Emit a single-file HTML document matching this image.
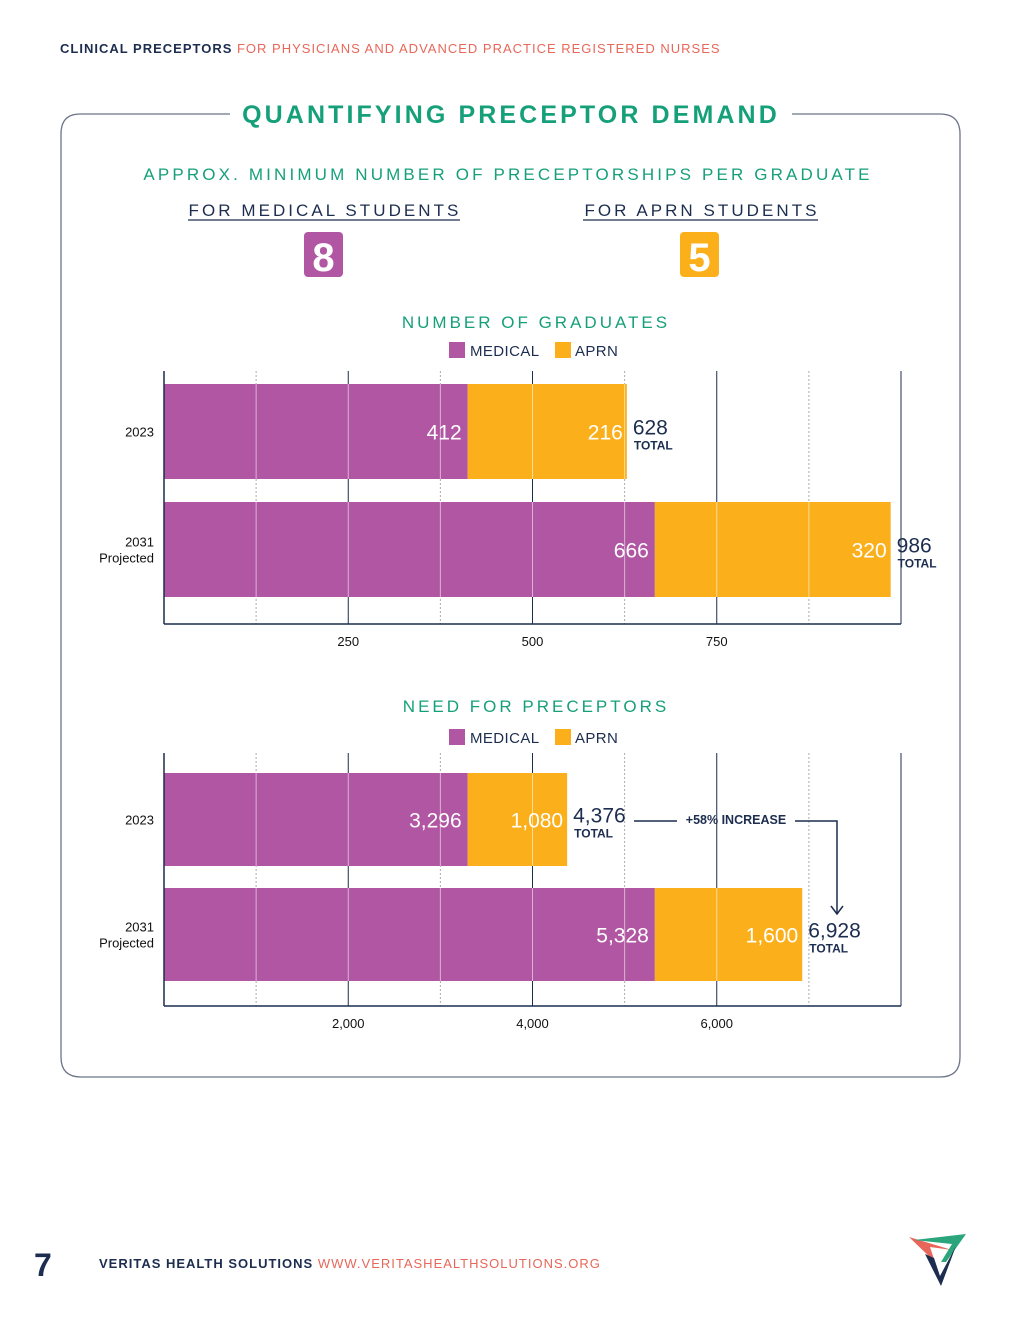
<!DOCTYPE html>
<html><head><meta charset="utf-8">
<style>
html,body{margin:0;padding:0;background:#fff;}
svg{display:block;font-family:"Liberation Sans",sans-serif;}
</style></head>
<body>
<svg id="page" width="1020" height="1320" viewBox="0 0 1020 1320" xmlns="http://www.w3.org/2000/svg">
  <text x="60" y="53" font-size="13" letter-spacing="1" font-weight="bold" fill="#1c2d4f">CLINICAL PRECEPTORS <tspan font-weight="normal" fill="#e8675a">FOR PHYSICIANS AND ADVANCED PRACTICE REGISTERED NURSES</tspan></text>

  <path d="M230,114 H80 Q61,114 61,134 V1057 Q61,1077 81,1077 H940 Q960,1077 960,1057 V134 Q960,114 940,114 H792" fill="none" stroke="#6c7489" stroke-width="1.3"/>
  <text x="511" y="123" text-anchor="middle" font-size="25" font-weight="bold" letter-spacing="3.1" fill="#16a07a">QUANTIFYING PRECEPTOR DEMAND</text>

  <text x="508" y="180" text-anchor="middle" font-size="17" letter-spacing="3.15" fill="#16a07a">APPROX. MINIMUM NUMBER OF PRECEPTORSHIPS PER GRADUATE</text>
  <text x="325" y="216" text-anchor="middle" font-size="17" letter-spacing="3.05" fill="#1c2d4f">FOR MEDICAL STUDENTS</text>
  <line x1="188" y1="220" x2="460" y2="220" stroke="#1c2d4f" stroke-width="1.3"/>
  <text x="702" y="216" text-anchor="middle" font-size="17" letter-spacing="3.05" fill="#1c2d4f">FOR APRN STUDENTS</text>
  <line x1="583" y1="220" x2="818" y2="220" stroke="#1c2d4f" stroke-width="1.3"/>
  <rect x="304" y="232" width="39" height="45" rx="4" fill="#b056a3"/>
  <text x="323.5" y="271" text-anchor="middle" font-size="40" font-weight="bold" fill="#fff">8</text>
  <rect x="680" y="232" width="39" height="45" rx="4" fill="#fbb01b"/>
  <text x="699.5" y="271" text-anchor="middle" font-size="40" font-weight="bold" fill="#fff">5</text>

  <g id="chart1"></g>
  <g id="chart2"></g>

  <g>
    <line x1="634" y1="821" x2="677" y2="821" stroke="#1c2d4f" stroke-width="1.5"/>
    <text x="736" y="824" text-anchor="middle" font-size="12.5" font-weight="bold" fill="#1c2d4f">+58% INCREASE</text>
    <polyline points="795,821 837,821 837,913" fill="none" stroke="#1c2d4f" stroke-width="1.5"/>
    <polyline points="831,906 837,914 843,906" fill="none" stroke="#1c2d4f" stroke-width="1.5"/>
  </g>

  <text x="34" y="1276" font-size="32" font-weight="bold" fill="#1c2d4f">7</text>
  <text x="99" y="1268" font-size="13" letter-spacing="1" font-weight="bold" fill="#1c2d4f">VERITAS HEALTH SOLUTIONS <tspan font-weight="normal" fill="#e8675a">WWW.VERITASHEALTHSOLUTIONS.ORG</tspan></text>
  <g>
    <polygon points="909,1237 952,1250 930,1247 935,1262" fill="#e8675a"/>
    <polygon points="914,1240 966,1234 946,1262 941,1262 952,1244" fill="#2aa57c"/>
    <polygon points="925,1254 934,1258 940,1276 956,1246 941,1286" fill="#1c2d4f"/>
  </g>
</svg>
<script>
const NS = "http://www.w3.org/2000/svg";
const gradCategories = ["2023", "2031|Projected"];
const gradMedical = [412, 666];
const gradAprn = [216, 320];
const gradTotals = ["628", "986"];
const gradTicks = [250, 500, 750];
const gradTickLabels = ["250", "500", "750"];
const gradMinor = [125, 375, 625, 875];

const needCategories = ["2023", "2031|Projected"];
const needMedical = [3296, 5328];
const needAprn = [1080, 1600];
const needTotals = ["4,376", "6,928"];
const needTicks = [2000, 4000, 6000];
const needTickLabels = ["2,000", "4,000", "6,000"];
const needMinor = [1000, 3000, 5000, 7000];
const needMedLabels = ["3,296", "5,328"];
const needAprnLabels = ["1,080", "1,600"];

function mk(tag, attrs, parent) {
  const e = document.createElementNS(NS, tag);
  for (const k in attrs) e.setAttribute(k, attrs[k]);
  parent.appendChild(e);
  return e;
}

function drawChart(g, cfg) {
  const x0 = 164, x1 = 901;
  const sx = v => x0 + (v / cfg.max) * (x1 - x0);
  const t = mk("text", {x: 536, y: cfg.titleY, "text-anchor": "middle", "font-size": 17, "letter-spacing": 3.0, fill: "#16a07a"}, g);
  
  
  t.textContent = cfg.title;
  const lg = mk("g", {}, g);
  
  
  mk("rect", {x: 449, y: cfg.legendY - 8, width: 16, height: 16, fill: "#b056a3"}, lg);
  const l1 = mk("text", {x: 470, y: cfg.legendY + 6, "font-size": 15, "letter-spacing": 0.4, fill: "#1c2d4f"}, lg); l1.textContent = "MEDICAL";
  mk("rect", {x: 555, y: cfg.legendY - 8, width: 16, height: 16, fill: "#fbb01b"}, lg);
  const l2 = mk("text", {x: 575, y: cfg.legendY + 6, "font-size": 15, "letter-spacing": 0.4, fill: "#1c2d4f"}, lg); l2.textContent = "APRN";
  cfg.minor.forEach(v => mk("line", {x1: sx(v), x2: sx(v), y1: cfg.top, y2: cfg.axisY, stroke: "#aaa", "stroke-width": 1, "stroke-dasharray": "2,2"}, g));
  cfg.ticks.forEach((v, i) => {
    mk("line", {x1: sx(v), x2: sx(v), y1: cfg.top, y2: cfg.axisY, stroke: "#1c2d4f", "stroke-width": 1}, g);
    const tl = mk("text", {x: sx(v), y: cfg.axisY + 22, "text-anchor": "middle", "font-size": 13, fill: "#111"}, g);
    
    
    tl.textContent = cfg.tickLabels[i];
  });
  mk("line", {x1: x1, x2: x1, y1: cfg.top, y2: cfg.axisY, stroke: "#1c2d4f", "stroke-width": 1}, g);
  cfg.cats.forEach((c, i) => {
    const y = cfg.barY[i], h = cfg.barH;
    const m = cfg.med[i], a = cfg.aprn[i];
    const r1 = mk("rect", {x: sx(0), y: y, width: sx(m) - sx(0), height: h, fill: "#b056a3"}, g);
    
    
    const r2 = mk("rect", {x: sx(m), y: y, width: sx(m + a) - sx(m), height: h, fill: "#fbb01b"}, g);
    
    
    const end = sx(m + a);
    cfg.ticks.concat(cfg.minor).forEach(v => {
      if (sx(v) < end) mk("line", {x1: sx(v), x2: sx(v), y1: y, y2: y + h, stroke: "#fff", "stroke-opacity": 0.55, "stroke-width": 1}, g);
    });
    const cy = y + h / 2 + 8;
    const v1 = mk("text", {x: sx(m) - 6, y: cy, "text-anchor": "end", "font-size": 21, fill: "#fff"}, g);
    
    
    v1.textContent = cfg.medLabels[i];
    const v2 = mk("text", {x: end - 4, y: cy, "text-anchor": "end", "font-size": 21, fill: "#fff"}, g);
    
    
    v2.textContent = cfg.aprnLabels[i];
    const tt = mk("text", {x: end + 6, y: y + h / 2 + 3, "font-size": 21, fill: "#1c2d4f"}, g);
    
    
    tt.textContent = cfg.totals[i];
    const tt2 = mk("text", {x: end + 7, y: y + h / 2 + 18, "font-size": 12, "font-weight": "bold", fill: "#1c2d4f"}, g);
    tt2.textContent = "TOTAL";
    const parts = c.split("|");
    parts.forEach((p, k) => {
      const cl = mk("text", {x: 154, y: y + h / 2 + 5 - (parts.length - 1) * 8 + k * 16, "text-anchor": "end", "font-size": 13, fill: "#111"}, g);
      
      
      cl.textContent = p;
    });
  });
  mk("line", {x1: x0, x2: x0, y1: cfg.top, y2: cfg.axisY, stroke: "#1c2d4f", "stroke-width": 1.5}, g);
  mk("line", {x1: x0, x2: x1, y1: cfg.axisY, y2: cfg.axisY, stroke: "#1c2d4f", "stroke-width": 1.5}, g);
}

drawChart(document.getElementById("chart1"), {
  title: "NUMBER OF GRADUATES", titleY: 328, legendY: 350, max: 1000,
  top: 371, axisY: 624, barY: [384, 502], barH: 95,
  cats: gradCategories, med: gradMedical, aprn: gradAprn, totals: gradTotals,
  medLabels: gradMedical.map(String), aprnLabels: gradAprn.map(String),
  ticks: gradTicks, tickLabels: gradTickLabels, minor: gradMinor
});
drawChart(document.getElementById("chart2"), {
  title: "NEED FOR PRECEPTORS", titleY: 712, legendY: 737, max: 8000,
  top: 753, axisY: 1006, barY: [773, 888], barH: 93,
  cats: needCategories, med: needMedical, aprn: needAprn, totals: needTotals,
  medLabels: needMedLabels, aprnLabels: needAprnLabels,
  ticks: needTicks, tickLabels: needTickLabels, minor: needMinor
});
</script>
</body></html>
